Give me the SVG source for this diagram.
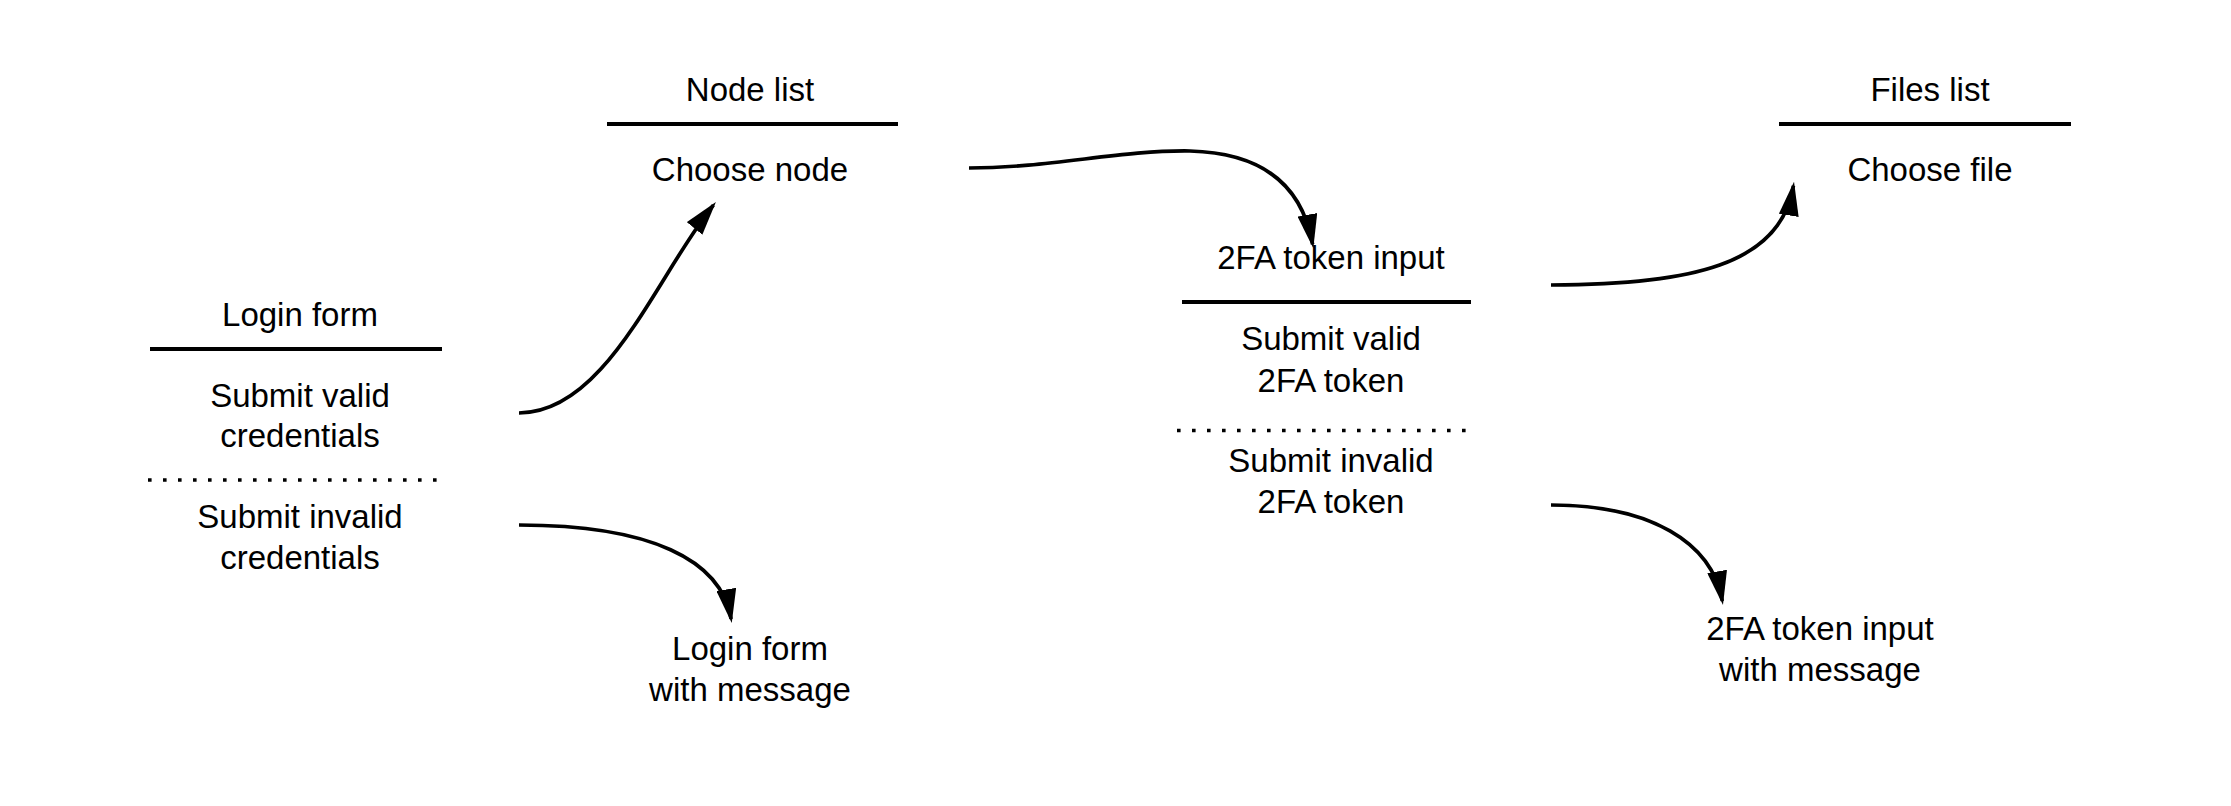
<svg xmlns="http://www.w3.org/2000/svg" width="2231" height="806" viewBox="0 0 2231 806">
<style>
text{font-family:"Liberation Sans",Arial,sans-serif;font-size:33px;fill:#000;text-anchor:middle}
.sep{stroke:#000;stroke-width:3.8;fill:none}
.dot{stroke:#000;stroke-width:3.6;stroke-dasharray:3.6 11.4;fill:none}
.edge{stroke:#000;stroke-width:3.7;fill:none;marker-end:url(#arr)}
</style>
<defs>
<marker id="arr" markerUnits="userSpaceOnUse" markerWidth="34" markerHeight="20" viewBox="0 0 34 20" refX="30" refY="10" orient="auto">
<path d="M0,0 L34,10 L0,20 Z" fill="#000"/>
</marker>
</defs>
<rect width="2231" height="806" fill="#fff"/>
<g id="login-form">
<text x="300" y="326">Login form</text>
<line class="sep" x1="150" y1="349" x2="442" y2="349"/>
<text x="300" y="407">Submit valid</text>
<text x="300" y="447">credentials</text>
<line class="dot" x1="148" y1="480" x2="438" y2="480"/>
<text x="300" y="528">Submit invalid</text>
<text x="300" y="569">credentials</text>
</g>
<g id="node-list">
<text x="750" y="101">Node list</text>
<line class="sep" x1="607" y1="124" x2="898" y2="124"/>
<text x="750" y="181">Choose node</text>
</g>
<g id="login-form-message">
<text x="750" y="660">Login form</text>
<text x="750" y="701">with message</text>
</g>
<g id="twofa-input">
<text x="1331" y="269">2FA token input</text>
<line class="sep" x1="1182" y1="302" x2="1471" y2="302"/>
<text x="1331" y="350">Submit valid</text>
<text x="1331" y="392">2FA token</text>
<line class="dot" x1="1177" y1="430.5" x2="1467" y2="430.5"/>
<text x="1331" y="472">Submit invalid</text>
<text x="1331" y="513">2FA token</text>
</g>
<g id="twofa-message">
<text x="1820" y="640">2FA token input</text>
<text x="1820" y="681">with message</text>
</g>
<g id="files-list">
<text x="1930" y="101">Files list</text>
<line class="sep" x1="1779" y1="124" x2="2071" y2="124"/>
<text x="1930" y="181">Choose file</text>
</g>
<g id="connectors">
<path class="edge" d="M519,413 C606,413 657,275 713.4,205.1"/>
<path class="edge" d="M519,525 C650,525 721.5,559.6 731.1,619"/>
<path class="edge" d="M969,168 C1050,168 1120,150 1190,151 C1268,153 1303,190 1312.6,244.4"/>
<path class="edge" d="M1551,285 C1690,285 1781,265 1793.4,185.7"/>
<path class="edge" d="M1551,505 C1650,505 1712,542 1722.3,601"/>
</g>
</svg>
